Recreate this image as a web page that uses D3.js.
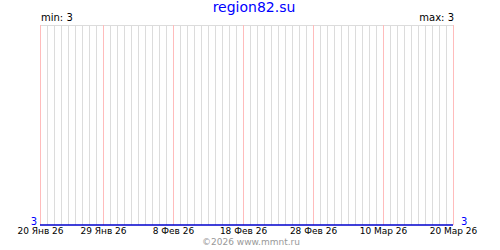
<!DOCTYPE html>
<html>
<head>
<meta charset="utf-8">
<script src="https://cdn.jsdelivr.net/npm/d3@7"></script>
<style>
  body { margin: 0; background: #fff; }
  text { font-family: "DejaVu Sans", Verdana, sans-serif; }
</style>
</head>
<body>
<div class="canvas"></div>
<script>
const title = 'region82.su';
const credit = '©2026 www.mmnt.ru';
const startDate = '2026-01-20';
const endDate = '2026-03-20';
// daily values, 20 Jan .. 20 Mar
const values = [
  3, 3, 3, 3, 3, 3, 3, 3, 3, 3,
  3, 3, 3, 3, 3, 3, 3, 3, 3, 3,
  3, 3, 3, 3, 3, 3, 3, 3, 3, 3,
  3, 3, 3, 3, 3, 3, 3, 3, 3, 3,
  3, 3, 3, 3, 3, 3, 3, 3, 3, 3,
  3, 3, 3, 3, 3, 3, 3, 3, 3, 3
];
const tickDates = ['2026-01-20', '2026-01-29', '2026-02-08', '2026-02-18', '2026-02-28', '2026-03-10', '2026-03-20'];
const tickLabels = ['20 Янв 26', '29 Янв 26', '8 Фев 26', '18 Фев 26', '28 Фев 26', '10 Мар 26', '20 Мар 26'];

const margin = { top: 25, right: 47, bottom: 25, left: 40 };
const width = 500, height = 250;
const graphWidth = width - margin.left - margin.right;
const graphHeight = height - margin.top - margin.bottom;

const parse = d3.utcParse('%Y-%m-%d');
const days = d3.utcDay.range(parse(startDate), d3.utcDay.offset(parse(endDate), 1));
const data = days.map((d, i) => ({ date: d, value: values[i] }));

const svg = d3.select('.canvas')
  .append('svg')
   .attr('width', width)
   .attr('height', height);

const graph = svg.append('g')
  .attr('transform', `translate(${margin.left}, ${margin.top})`);

const x = d3.scaleUtc()
  .domain([parse(startDate), parse(endDate)])
  .range([0, graphWidth]);

const minV = d3.min(values), maxV = d3.max(values);
const y = d3.scaleLinear()
  .domain([minV, maxV === minV ? minV + 1 : maxV])
  .range([graphHeight, 0]);

// daily grid
graph.selectAll('line.day')
  .data(days)
  .enter().append('line')
   .attr('class', 'day')
   .attr('x1', d => Math.round(x(d)) + 0.5)
   .attr('x2', d => Math.round(x(d)) + 0.5)
   .attr('y1', 0)
   .attr('y2', graphHeight)
   .attr('stroke', '#dcdcdc');

// top border
graph.append('line')
  .attr('x1', 0).attr('x2', graphWidth + 1)
  .attr('y1', 0.5).attr('y2', 0.5)
  .attr('stroke', '#dcdcdc');

// labelled ticks
const ticks = tickDates.map(parse);
graph.selectAll('line.major')
  .data(ticks)
  .enter().append('line')
   .attr('class', 'major')
   .attr('x1', d => Math.round(x(d)) + 0.5)
   .attr('x2', d => Math.round(x(d)) + 0.5)
   .attr('y1', 0)
   .attr('y2', graphHeight)
   .attr('stroke', '#ffbcbc');

graph.selectAll('text.tick')
  .data(ticks)
  .enter().append('text')
   .attr('class', 'tick')
   .attr('x', d => x(d) + 0.5)
   .attr('y', graphHeight + 9)
   .attr('text-anchor', 'middle')
   .style('font-size', '9px')
   .text((d, i) => tickLabels[i]);

// value line
const line = d3.line()
  .x(d => x(d.date))
  .y(d => y(d.value));

graph.append('path')
  .datum(data)
  .attr('d', line)
  .attr('fill', 'none')
  .attr('stroke', '#0000cc')
  .attr('stroke-width', 1.5);

// y labels
graph.append('text')
  .attr('x', -3).attr('y', y(minV))
  .attr('text-anchor', 'end')
  .attr('fill', '#0000ff')
  .style('font-size', '10px')
  .text(minV);
graph.append('text')
  .attr('x', graphWidth + 8).attr('y', y(minV))
  .attr('fill', '#0000ff')
  .style('font-size', '10px')
  .text(minV);

// min / max
graph.append('text')
  .attr('x', 1).attr('y', -4)
  .style('font-size', '10px')
  .text(`min: ${minV}`);
graph.append('text')
  .attr('x', graphWidth + 1).attr('y', -4)
  .attr('text-anchor', 'end')
  .style('font-size', '10px')
  .text(`max: ${maxV}`);

svg.append('text')
  .attr('x', 254).attr('y', 12)
  .attr('text-anchor', 'middle')
  .attr('fill', '#0000ff')
  .style('font-size', '14px')
  .text(title);

svg.append('text')
  .attr('x', 251).attr('y', 245)
  .attr('text-anchor', 'middle')
  .attr('fill', '#999')
  .style('font-size', '9px')
  .text(credit);
</script>
</body>
</html>
